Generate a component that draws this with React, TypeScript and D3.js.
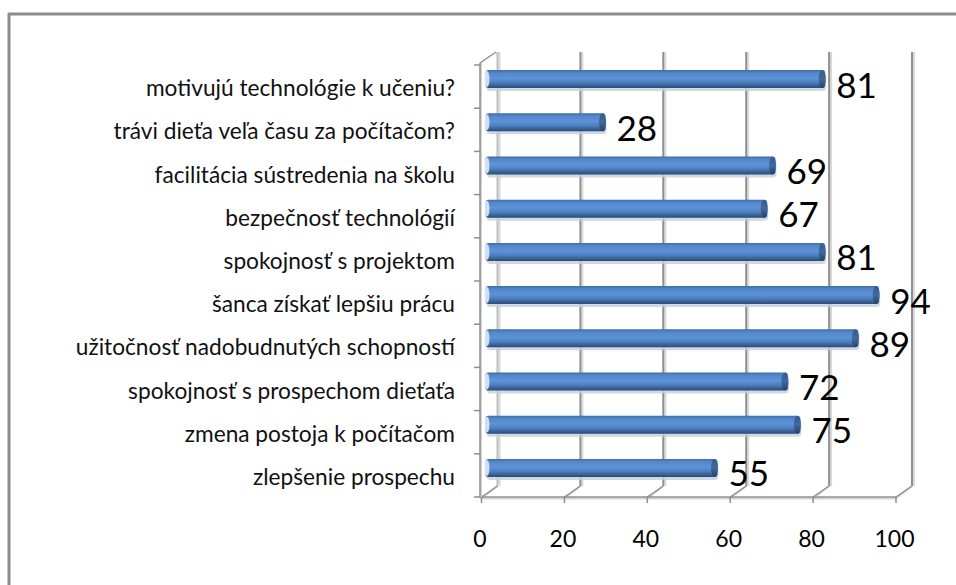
import React from "react";
import * as d3 from "d3";

const categories = [
  "motivujú technológie k učeniu?",
  "trávi dieťa veľa času za počítačom?",
  "facilitácia sústredenia na školu",
  "bezpečnosť technológií",
  "spokojnosť s projektom",
  "šanca získať lepšiu prácu",
  "užitočnosť nadobudnutých schopností",
  "spokojnosť s prospechom dieťaťa",
  "zmena postoja k počítačom",
  "zlepšenie prospechu",
];
const values = [81, 28, 69, 67, 81, 94, 89, 72, 75, 55];
const tickValues = [0, 20, 40, 60, 80, 100];

const W = 956;
const H = 585;
const DX = 16;
const DY = -11;
const FONT = "Lato, 'Open Sans', sans-serif";

export default function App() {
  const x = d3.scaleLinear().domain([0, 100]).range([481.5, 896]);
  const y = d3.scaleBand<string>().domain(categories).range([65, 497]).padding(0);
  const bw = y.bandwidth();
  const barH = 18;
  const midX = (v: number) => x(v) + DX / 2;
  const barCy = (c: string) => (y(c) as number) + bw / 2 - 7.5;
  const yTop = 63;
  const yBot = 497;
  const boundaries = d3.range(categories.length + 1).map((i) => 65 + i * bw);

  return (
    <svg
      width={W}
      height={H}
      style={{ position: "absolute", left: 0, top: 0, background: "#fff" }}
    >
      <defs>
        <linearGradient id="barGrad" x1="0" y1="0" x2="0" y2="1">
          <stop offset="0%" stopColor="#3f6da6" />
          <stop offset="15%" stopColor="#5286c9" />
          <stop offset="45%" stopColor="#5d93d8" />
          <stop offset="70%" stopColor="#4c7ebf" />
          <stop offset="85%" stopColor="#3a6499" />
          <stop offset="100%" stopColor="#2a4a73" />
        </linearGradient>
        <linearGradient id="capGrad" x1="0" y1="0" x2="0" y2="1">
          <stop offset="0%" stopColor="#36598a" />
          <stop offset="50%" stopColor="#406a9e" />
          <stop offset="100%" stopColor="#24406a" />
        </linearGradient>
      </defs>
      {/* outer frame */}
      <line x1={8} y1={14} x2={W} y2={14} stroke="#8c8c8c" strokeWidth={3} />
      <line x1={9} y1={13} x2={9} y2={H} stroke="#8c8c8c" strokeWidth={3} />

      {/* back wall gridlines */}
      {tickValues.map((t) => (
        <g key={"g" + t}>
          <line
            x1={x(t) + DX + 2}
            y1={yTop + DY}
            x2={x(t) + DX + 2}
            y2={yBot + DY}
            stroke="#d9d9d9"
            strokeWidth={2}
          />
          <line
            x1={x(t) + DX}
            y1={yTop + DY}
            x2={x(t) + DX}
            y2={yBot + DY}
            stroke={t === 0 ? "#bdbdbd" : "#8f8f8f"}
            strokeWidth={2}
          />
          <line
            x1={x(t)}
            y1={yBot + 1.5}
            x2={x(t) + DX}
            y2={yBot + DY}
            stroke="#d4d4d4"
            strokeWidth={2}
          />
          <line
            x1={x(t)}
            y1={yBot}
            x2={x(t) + DX}
            y2={yBot + DY}
            stroke="#8f8f8f"
            strokeWidth={1.5}
          />
        </g>
      ))}

      {/* floor front line */}
      <line x1={480} y1={yBot + 1.5} x2={x(100)} y2={yBot + 1.5} stroke="#d4d4d4" strokeWidth={2} />
      <line x1={480} y1={yBot} x2={x(100)} y2={yBot} stroke="#8f8f8f" strokeWidth={1.5} />
      {tickValues.map((t) => (
        <line key={"t" + t} x1={x(t)} y1={yBot} x2={x(t)} y2={yBot + 6} stroke="#8f8f8f" strokeWidth={1.5} />
      ))}

      {/* left axis */}
      <line x1={481} y1={yTop} x2={481} y2={yBot} stroke="#d4d4d4" strokeWidth={2} />
      <line x1={480} y1={yTop} x2={480} y2={yBot} stroke="#8f8f8f" strokeWidth={1.5} />
      <line x1={480} y1={yTop} x2={480 + DX} y2={yTop + DY} stroke="#8f8f8f" strokeWidth={1.5} />
      {boundaries.map((b, i) => (
        <line key={"b" + i} x1={474} y1={b} x2={480} y2={b} stroke="#8f8f8f" strokeWidth={1.5} />
      ))}

      {/* bars */}
      {categories.map((c, i) => {
        const v = values[i];
        const cy = barCy(c);
        const x0 = x(0) + 4;
        const x1 = midX(v);
        return (
          <g key={"bar" + i}>
            <rect
              x={x0 + 1}
              y={cy - barH / 2 + 3}
              width={x1 - x0}
              height={barH}
              rx={4}
              fill="#c6ced9"
              opacity={0.8}
            />
            <rect
              x={x0}
              y={cy - barH / 2}
              width={x1 - x0}
              height={barH}
              rx={3}
              fill="url(#barGrad)"
            />
            <ellipse cx={x0 + 1.5} cy={cy} rx={2.5} ry={barH / 2 - 1} fill="#dfe8f3" opacity={0.9} />
            <ellipse cx={x1 - 3} cy={cy} rx={3.5} ry={barH / 2} fill="url(#capGrad)" />
            <text
              x={x1 + 11}
              y={cy + 18.5}
              fontFamily={FONT}
              fontSize={35}
              fill="#000"
            >
              {v}
            </text>
          </g>
        );
      })}

      {/* category labels */}
      {categories.map((c) => (
        <text
          key={"l" + c}
          x={455}
          y={(y(c) as number) + bw / 2 + 9.5}
          textAnchor="end"
          fontFamily={FONT}
          fontSize={22.7}
          fill="#111"
        >
          {c}
        </text>
      ))}

      {/* tick labels */}
      {tickValues.map((t) => (
        <text
          key={"tl" + t}
          x={x(t) - 1.5}
          y={547}
          textAnchor="middle"
          fontFamily={FONT}
          fontSize={23}
          fill="#000"
        >
          {t}
        </text>
      ))}
    </svg>
  );
}
